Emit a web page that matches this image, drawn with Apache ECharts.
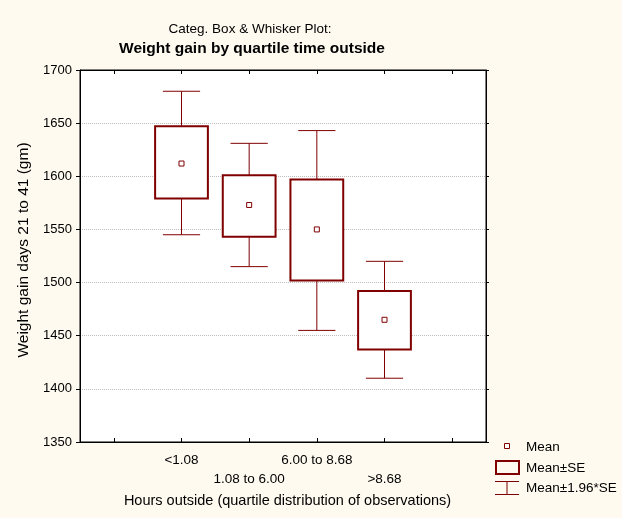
<!DOCTYPE html>
<html>
<head>
<meta charset="utf-8">
<script src="https://cdn.jsdelivr.net/npm/echarts@6/dist/echarts.min.js"></script>
<style>
  html, body { margin: 0; padding: 0; background: #FEFAF0; }
  #chart { width: 622px; height: 518px; }
</style>
</head>
<body>
<div id="chart"></div>
<script>
// Quartile groups of hours spent outside (blank slots pad the axis ends)
const categories = ['', '<1.08', '1.08 to 6.00', '6.00 to 8.68', '>8.68', ''];
const groups = ['<1.08', '1.08 to 6.00', '6.00 to 8.68', '>8.68'];

// Weight gain, days 21 to 41 (gm)
const means      = [1612, 1573, 1550, 1465];
const seLow      = [1579, 1543, 1502, 1437];
const seHigh     = [1647, 1601, 1597, 1492];
const ciLow      = [1545, 1515, 1455, 1410];
const ciHigh     = [1680, 1631, 1643, 1520];

const yTicks = { min: 1350, max: 1700, interval: 50 };

const RED = '#800000';
const FONT = '"Liberation Sans", Arial, sans-serif';

const boxData = groups.map((g, i) => [categories.indexOf(g), ciLow[i], seLow[i], means[i], seHigh[i], ciHigh[i]]);

function renderBox(params, api) {
  const cx = api.coord([api.value(0), 0])[0];
  const band = api.size([1, 0])[0];
  const yWlo = api.coord([0, api.value(1)])[1];
  const yLo  = api.coord([0, api.value(2)])[1];
  const yMean = api.coord([0, api.value(3)])[1];
  const yHi  = api.coord([0, api.value(4)])[1];
  const yWhi = api.coord([0, api.value(5)])[1];
  const bw = band * 0.78;
  const cw = band * 0.55;
  const thin = { stroke: RED, lineWidth: 1, fill: null };
  return {
    type: 'group',
    children: [
      { type: 'line', shape: { x1: cx, y1: yWhi, x2: cx, y2: yHi }, style: thin },
      { type: 'line', shape: { x1: cx, y1: yLo, x2: cx, y2: yWlo }, style: thin },
      { type: 'line', shape: { x1: cx - cw / 2, y1: yWhi, x2: cx + cw / 2, y2: yWhi }, style: thin },
      { type: 'line', shape: { x1: cx - cw / 2, y1: yWlo, x2: cx + cw / 2, y2: yWlo }, style: thin },
      { type: 'rect', shape: { x: cx - bw / 2, y: yHi, width: bw, height: yLo - yHi },
        style: { stroke: RED, lineWidth: 2, fill: '#fff' } },
      { type: 'rect', shape: { x: cx - 2.5, y: yMean - 2.5, width: 5, height: 5 },
        style: { stroke: RED, lineWidth: 1, fill: '#fff' } }
    ]
  };
}

const chart = echarts.init(document.getElementById('chart'), null, { renderer: 'canvas' });

const legendX = 495, legendTextX = 526;
const legendFont = '13.5px ' + FONT;
chart.setOption({
  backgroundColor: '#FEFAF0',
  animation: false,
  title: [
    { text: 'Categ. Box & Whisker Plot:', left: 250, top: 22, textAlign: 'center', padding: 0,
      textStyle: { fontFamily: FONT, fontSize: 13.5, fontWeight: 'normal', color: '#000' } },
    { text: 'Weight gain by quartile time outside', left: 252, top: 41, textAlign: 'center', padding: 0,
      textStyle: { fontFamily: FONT, fontSize: 15.5, fontWeight: 'bold', color: '#000' } }
  ],
  grid: { left: 80, right: 136, top: 70, bottom: 76, show: true, backgroundColor: '#fff',
          borderColor: '#000', borderWidth: 1 },
  xAxis: [
    {
      type: 'category', data: categories, position: 'bottom',
      boundaryGap: true,
      axisLine: { show: true, lineStyle: { color: '#000' } },
      axisTick: { show: true, inside: true, length: 4, alignWithLabel: true, interval: 0,
                  lineStyle: { color: '#000' } },
      axisLabel: { interval: 0, margin: 9, color: '#000', fontFamily: FONT, fontSize: 13.5,
                   lineHeight: 19,
                   formatter: (v, i) => (i % 2 === 0 && v ? '\n' + v : v) },
      name: 'Hours outside (quartile distribution of observations)',
      nameLocation: 'middle', nameGap: 48,
      nameTextStyle: { color: '#000', fontFamily: FONT, fontSize: 14.5, padding: [0, 0, 0, 9] }
    },
    {
      type: 'category', data: categories, position: 'top',
      boundaryGap: true,
      axisLine: { show: true, lineStyle: { color: '#000' } },
      axisTick: { show: true, inside: true, length: 4, alignWithLabel: true, interval: 0,
                  lineStyle: { color: '#000' } },
      axisLabel: { show: false }
    }
  ],
  yAxis: [
    {
      type: 'value', min: yTicks.min, max: yTicks.max, interval: yTicks.interval,
      axisLine: { show: true, lineStyle: { color: '#000' } },
      axisTick: { show: true, inside: false, length: 4, lineStyle: { color: '#000' } },
      axisLabel: { margin: 8, color: '#000', fontFamily: FONT, fontSize: 13,
                   formatter: v => String(v) },
      splitLine: { show: true, lineStyle: { color: '#bdbdbd', type: 'dotted', width: 1 } },
      name: 'Weight gain days 21 to 41 (gm)',
      nameLocation: 'middle', nameGap: 47, nameRotate: 90,
      nameTextStyle: { color: '#000', fontFamily: FONT, fontSize: 15.5, padding: [0, 0, 0, 12] }
    },
    {
      type: 'value', min: yTicks.min, max: yTicks.max, interval: yTicks.interval,
      position: 'right',
      axisLine: { show: true, lineStyle: { color: '#000' } },
      axisTick: { show: true, inside: false, length: 3, lineStyle: { color: '#000' } },
      axisLabel: { show: false },
      splitLine: { show: false }
    }
  ],
  series: [
    {
      type: 'custom', name: 'Mean±SE',
      xAxisIndex: 0, yAxisIndex: 0,
      renderItem: renderBox,
      encode: { x: 0, y: [1, 2, 3, 4, 5] },
      data: boxData
    }
  ],
  graphic: [
    // legend: mean marker
    { type: 'rect', shape: { x: 504.5, y: 443.5, width: 5, height: 5 },
      style: { stroke: RED, lineWidth: 1, fill: '#fff' } },
    { type: 'text', x: legendTextX, y: 447,
      style: { text: 'Mean', font: legendFont, fill: '#000', textVerticalAlign: 'middle' } },
    // legend: mean ± SE box
    { type: 'rect', shape: { x: legendX + 1, y: 461, width: 23, height: 13 },
      style: { stroke: RED, lineWidth: 2, fill: null } },
    { type: 'text', x: legendTextX, y: 468,
      style: { text: 'Mean±SE', font: legendFont, fill: '#000', textVerticalAlign: 'middle' } },
    // legend: mean ± 1.96*SE whisker
    { type: 'line', shape: { x1: legendX, y1: 481.5, x2: legendX + 24, y2: 481.5 },
      style: { stroke: RED, lineWidth: 1 } },
    { type: 'line', shape: { x1: legendX + 12, y1: 481.5, x2: legendX + 12, y2: 494.5 },
      style: { stroke: RED, lineWidth: 1 } },
    { type: 'line', shape: { x1: legendX, y1: 494.5, x2: legendX + 24, y2: 494.5 },
      style: { stroke: RED, lineWidth: 1 } },
    { type: 'text', x: legendTextX, y: 488,
      style: { text: 'Mean±1.96*SE', font: legendFont, fill: '#000', textVerticalAlign: 'middle' } }
  ]
});
</script>
</body>
</html>
